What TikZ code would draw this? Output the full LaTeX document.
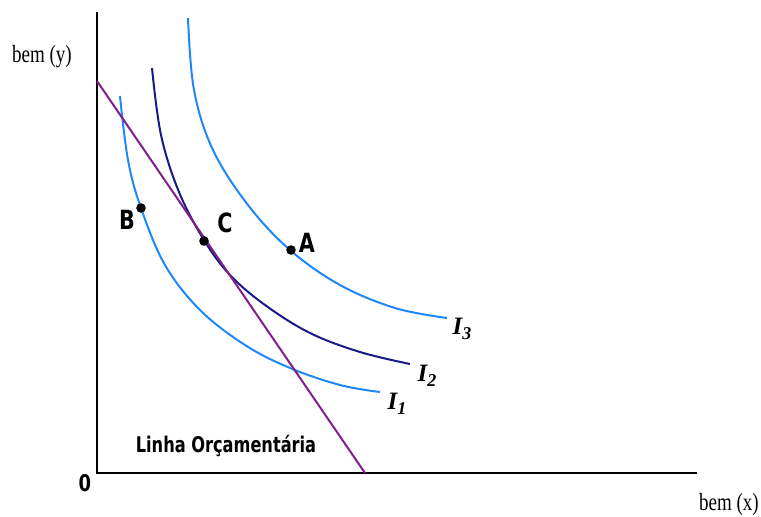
\documentclass[tikz,border=0pt]{standalone}
\usepackage{fontspec}
\setmainfont{Liberation Serif}
\newfontfamily\lblfont{DejaVu Sans Condensed}
\definecolor{lightcurve}{RGB}{30,136,250}
\definecolor{darkcurve}{RGB}{25,25,135}
\definecolor{budget}{RGB}{130,30,140}
\begin{document}
\begin{tikzpicture}[x=1pt,y=-1pt]
\useasboundingbox (0,0) rectangle (761,517);
\draw[line width=2pt] (97,12) -- (97,473) -- (697,473);
\node[font=\fontsize{19}{19}\selectfont,yscale=1.3] (ylab) at (42,57) {bem (y)};
\node[font=\fontsize{19}{19}\selectfont,yscale=1.3] (xlab) at (729,505) {bem (x)};
\node[font=\lblfont\bfseries\fontsize{20}{20}\selectfont,yscale=1.15] (orig) at (85,483) {0};
\draw[lightcurve,line width=2pt] plot[smooth,tension=0.6] coordinates {(120,96) (128,160) (141,208) (165,265) (200,310) (245,345) (290,368) (340,385) (380,392)};
\draw[darkcurve,line width=2pt] plot[smooth,tension=0.6] coordinates {(152,68) (161,135) (179,192) (204,240) (230,275) (265,305) (310,333) (360,352) (410,364)};
\draw[lightcurve,line width=2pt] plot[smooth,tension=0.6] coordinates {(188,18) (194,90) (213,150) (248,205) (290,250) (340,285) (395,308) (447,318)};
\draw[budget,line width=2pt] (97,81) -- (365,473);
\fill (141,208) circle (4.8pt) node (ptB) {};
\fill (204,241) circle (4.8pt) node (ptC) {};
\fill (291,250) circle (4.8pt) node (ptA) {};
\node[font=\lblfont\bfseries\fontsize{23}{23}\selectfont,yscale=1.15] (labB) at (127,220) {B};
\node[font=\lblfont\bfseries\fontsize{23}{23}\selectfont,yscale=1.15] (labC) at (225,223) {C};
\node[font=\lblfont\bfseries\fontsize{23}{23}\selectfont,yscale=1.15] (labA) at (307,243) {A};
\node[font=\bfseries\itshape\fontsize{25}{25}\selectfont] (I3) at (462,329) {I\raisebox{-0.4ex}{\fontsize{18}{18}\selectfont 3}};
\node[font=\bfseries\itshape\fontsize{25}{25}\selectfont] (I2) at (427,376) {I\raisebox{-0.4ex}{\fontsize{18}{18}\selectfont 2}};
\node[font=\bfseries\itshape\fontsize{25}{25}\selectfont] (I1) at (397,404) {I\raisebox{-0.4ex}{\fontsize{18}{18}\selectfont 1}};
\node[font=\lblfont\bfseries\fontsize{18}{18}\selectfont,yscale=1.2] (budlab) at (226,446) {Linha Orçamentária};
\end{tikzpicture}
\end{document}
